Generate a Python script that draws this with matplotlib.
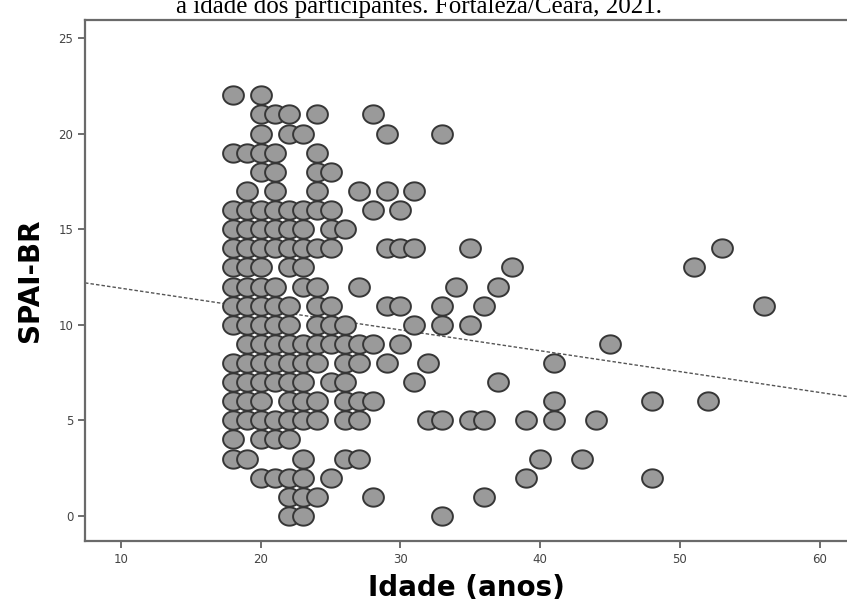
import numpy as np
import matplotlib
matplotlib.use('Agg')
import matplotlib.pyplot as plt
from matplotlib.path import Path

# SPAI-BR score -> ages (anos) of participants with that score
spai_rows = {
    22: [18, 20],
    21: [20, 21, 22, 24, 28],
    20: [20, 22, 23, 29, 33],
    19: [18, 19, 20, 21, 24],
    18: [20, 21, 24, 25],
    17: [19, 21, 24, 27, 29, 31],
    16: [18, 19, 20, 21, 22, 23, 24, 25, 28, 30],
    15: [18, 19, 20, 21, 22, 23, 25, 26],
    14: [18, 19, 20, 21, 22, 23, 24, 25, 29, 30, 31, 35, 53],
    13: [18, 19, 20, 22, 23, 38, 51],
    12: [18, 19, 20, 21, 23, 24, 27, 34, 37],
    11: [18, 19, 20, 21, 22, 24, 25, 29, 30, 33, 36, 56],
    10: [18, 19, 20, 21, 22, 24, 25, 26, 31, 33, 35],
    9: [19, 20, 21, 22, 23, 24, 25, 26, 27, 28, 30, 45],
    8: [18, 19, 20, 21, 22, 23, 24, 26, 27, 29, 32, 41],
    7: [18, 19, 20, 21, 22, 23, 25, 26, 31, 37],
    6: [18, 19, 20, 22, 23, 24, 26, 27, 28, 41, 48, 52],
    5: [18, 19, 20, 21, 22, 23, 24, 26, 27, 32, 33, 35, 36, 39, 41, 44],
    4: [18, 20, 21, 22],
    3: [18, 19, 23, 26, 27, 40, 43],
    2: [20, 21, 22, 23, 25, 39, 48],
    1: [22, 23, 24, 28, 36],
    0: [22, 23, 33],
}

# linear fit line as drawn in the source
fit_intercept = 13.0
fit_slope = -0.109

x_ticks = [10, 20, 30, 40, 50, 60]
y_ticks = [0, 5, 10, 15, 20, 25]

title = 'a idade dos participantes. Fortaleza/Ceará, 2021.'
x_label = 'Idade (anos)'
y_label = 'SPAI-BR'

idade = []
spai = []
for score in sorted(spai_rows, reverse=True):
    for age in spai_rows[score]:
        idade.append(age)
        spai.append(score)

# slightly wide ellipse marker, like the SPSS output
t = np.linspace(0, 2 * np.pi, 60)
ellipse = Path(np.column_stack([np.cos(t), 0.88 * np.sin(t)]), closed=True)

fig = plt.figure(figsize=(8.47, 6.07), dpi=100)
ax = fig.add_axes([85 / 847, 66 / 607, 1 - 85 / 847 + 0.002, 521 / 607])

ax.scatter(idade, spai, s=225, marker=ellipse, facecolor='#9a9a9a',
           edgecolor='#363636', linewidths=1.4, zorder=3)
ax.axline((0, fit_intercept), slope=fit_slope, color='#555555', lw=1.0,
          linestyle=(0, (2.5, 1.5)), zorder=2)

ax.set_xlim(7.42, 62.08)
ax.set_ylim(-1.31, 25.94)
ax.set_xticks(x_ticks)
ax.set_yticks(y_ticks)
ax.tick_params(direction='out', length=5, width=1.2, color='#555555',
               labelsize=8.5, labelcolor='#444444')

for side in ['left', 'bottom', 'top']:
    ax.spines[side].set_color('#6a6a6a')
    ax.spines[side].set_linewidth(1.6)
ax.spines['right'].set_visible(False)

ax.set_xlabel(x_label, fontsize=20, fontweight='bold', labelpad=6)
ax.set_ylabel(y_label, fontsize=20, fontweight='bold', labelpad=10)

# caption is cut by the top edge in the source image
fig.text(0.495, 1 - 13 / 607, title, ha='center', va='baseline',
         fontsize=18, family='Liberation Serif')

fig.savefig('out.png', dpi=100, facecolor='white')
